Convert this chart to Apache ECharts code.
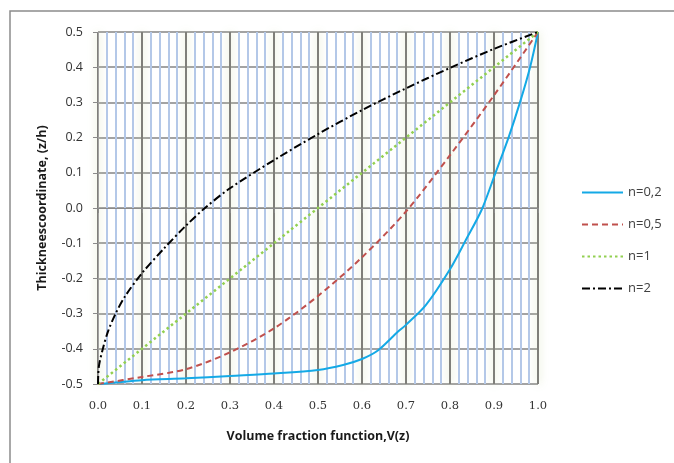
<!DOCTYPE html>
<html>
<head>
<meta charset="utf-8">
<script src="https://cdn.jsdelivr.net/npm/echarts@6/dist/echarts.min.js"></script>
<style>
  html, body { margin: 0; padding: 0; background: #fff; }
  #main { width: 674px; height: 463px; }
</style>
</head>
<body>
<div id="main"></div>
<script>
// values: x = V(z), y = z/h
var seriesNames = ['n=0,2', 'n=0,5', 'n=1', 'n=2'];

var x02 = [0, 0.1, 0.2, 0.3, 0.4, 0.5, 0.557, 0.6, 0.636, 0.682, 0.7, 0.745, 0.8, 0.836, 0.872, 0.902, 0.933, 0.959, 0.982, 1];
var y02 = [-0.5, -0.489, -0.484, -0.477, -0.47, -0.46, -0.446, -0.429, -0.405, -0.351, -0.332, -0.276, -0.174, -0.091, -0.005, 0.095, 0.2, 0.3, 0.4, 0.5];

var x05 = [0, 0.1, 0.2, 0.3, 0.4, 0.5, 0.6, 0.7, 0.8, 0.9, 1];
var y05 = [-0.5, -0.48, -0.458, -0.41, -0.342, -0.25, -0.14, -0.01, 0.15, 0.32, 0.5];

var x1 = [0, 0.1, 0.2, 0.3, 0.4, 0.5, 0.6, 0.7, 0.8, 0.9, 1];
var y1 = [-0.5, -0.4, -0.3, -0.2, -0.1, 0, 0.1, 0.2, 0.3, 0.4, 0.5];

var x2 = [0, 0.002, 0.011, 0.023, 0.04, 0.062, 0.1, 0.15, 0.2, 0.243, 0.3, 0.4, 0.5, 0.6, 0.7, 0.8, 0.9, 1];
var y2 = [-0.5, -0.45, -0.4, -0.35, -0.3, -0.25, -0.185, -0.115, -0.05, 0, 0.056, 0.136, 0.21, 0.278, 0.34, 0.398, 0.452, 0.5];

function pairs(xs, ys) {
    var out = [];
    for (var i = 0; i < xs.length; i++) {
        out.push([xs[i], ys[i]]);
    }
    return out;
}

var myChart = echarts.init(document.getElementById('main'), null, { renderer: 'canvas' });

var option = {
    backgroundColor: '#fff',
    animation: false,
    graphic: [{
        type: 'rect',
        shape: { x: 10, y: 11, width: 700, height: 500 },
        style: { fill: 'none', stroke: '#8c8c8c', lineWidth: 1.5 },
        z: -1
    }],
    grid: { left: 98, right: 136, top: 32, bottom: 79 },
    legend: {
        orient: 'vertical',
        left: 576,
        top: 181,
        itemWidth: 41,
        itemHeight: 14,
        itemGap: 19,
        itemStyle: { opacity: 0 },
        textStyle: { fontFamily: 'Open Sans', fontSize: 13, color: '#404040' },
        data: seriesNames
    },
    xAxis: {
        type: 'value',
        min: 0,
        max: 1,
        interval: 0.1,
        name: 'Volume fraction function,V(z)',
        nameLocation: 'middle',
        nameGap: 46,
        nameTextStyle: { fontFamily: 'Open Sans', fontWeight: 'bold', fontSize: 12.5, color: '#1a1a1a' },
        axisLine: { lineStyle: { color: '#8a8a8a', width: 1 } },
        axisTick: { show: true, length: 5, lineStyle: { color: '#8a8a8a' } },
        axisLabel: {
            margin: 16,
            fontFamily: 'DejaVu Serif',
            fontSize: 11.5,
            color: '#333',
            formatter: function (v) { return v.toFixed(1); }
        },
        splitLine: {
            show: true,
            lineStyle: { color: '#7f7f7a', width: 2, shadowColor: 'rgba(200,215,160,0.8)', shadowBlur: 8 }
        },
        minorTick: { show: false, splitNumber: 5 },
        minorSplitLine: { show: true, lineStyle: { color: '#b4c8e8', width: 2 } }
    },
    yAxis: {
        type: 'value',
        min: -0.5,
        max: 0.5,
        interval: 0.1,
        name: 'Thickneescoordinate, (z/h)',
        nameLocation: 'middle',
        nameGap: 49,
        nameTextStyle: { fontFamily: 'Open Sans', fontWeight: 'bold', fontSize: 12.5, color: '#1a1a1a' },
        axisLine: { show: true, lineStyle: { color: '#a0a0a0', width: 1 } },
        axisTick: { show: true, length: 5, lineStyle: { color: '#8a8a8a' } },
        axisLabel: {
            margin: 15,
            fontFamily: 'Open Sans',
            fontSize: 12.5,
            color: '#333',
            formatter: function (v) { return v.toFixed(1); }
        },
        splitLine: { show: true, lineStyle: { color: '#858585', width: 1.5 } }
    },
    series: [
        {
            name: seriesNames[0],
            type: 'line',
            data: pairs(x02, y02),
            smooth: 0.3,
            symbol: 'none',
            color: '#14a9e6',
            lineStyle: { color: '#14a9e6', width: 2 }
        },
        {
            name: seriesNames[1],
            type: 'line',
            data: pairs(x05, y05),
            smooth: 0.3,
            symbol: 'none',
            color: '#c0504d',
            lineStyle: { color: '#c0504d', width: 2, type: [6, 4] }
        },
        {
            name: seriesNames[2],
            type: 'line',
            data: pairs(x1, y1),
            symbol: 'none',
            color: '#92d050',
            lineStyle: { color: '#92d050', width: 2.5, type: [2.5, 3] }
        },
        {
            name: seriesNames[3],
            type: 'line',
            data: pairs(x2, y2),
            smooth: 0.3,
            symbol: 'none',
            color: '#000',
            lineStyle: { color: '#000', width: 2, type: [8, 3, 2, 3] }
        }
    ]
};

myChart.setOption(option);
</script>
</body>
</html>
